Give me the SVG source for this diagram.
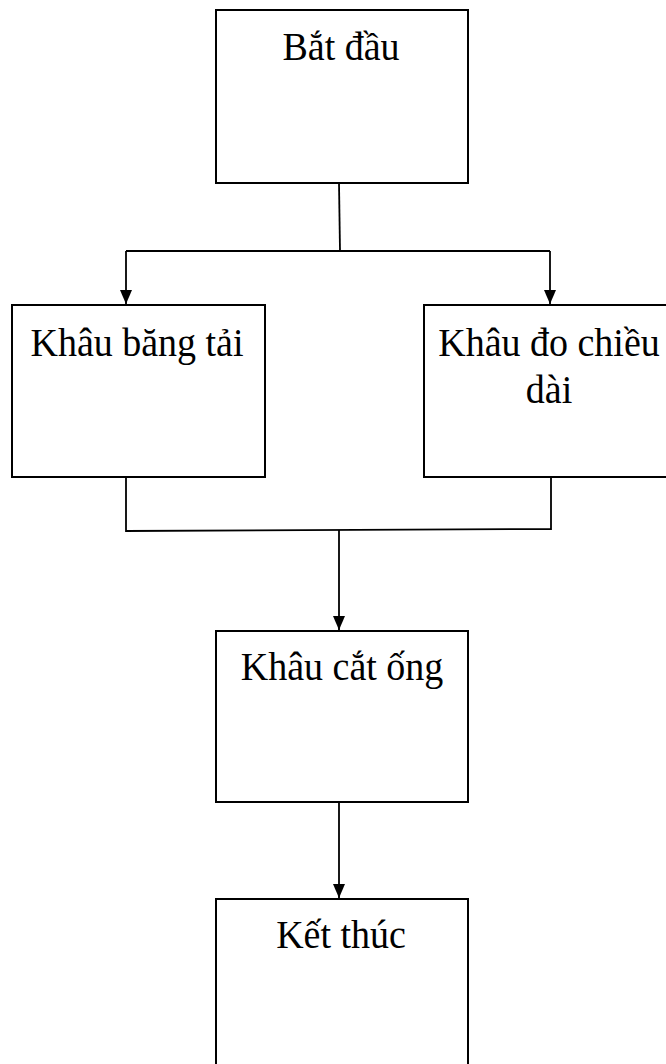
<svg xmlns="http://www.w3.org/2000/svg" width="666" height="1064" viewBox="0 0 666 1064">
<style>
.box{fill:#fff;stroke:#000;stroke-width:2}
.ln{fill:none;stroke:#000;stroke-width:1.8}
.t{font-family:"Liberation Serif","Times New Roman",serif;font-size:38px;fill:#000;text-anchor:middle}
</style>
<defs>
<marker id="ah" markerUnits="userSpaceOnUse" markerWidth="14" markerHeight="12" refX="14" refY="6" orient="auto" viewBox="0 0 14 12">
<path d="M0,0 L14,6 L0,12 Z" fill="#000"/>
</marker>
</defs>
<g id="connectors">
<path class="ln" d="M339,183 L340,251"/>
<path class="ln" d="M126,251 L550,251"/>
<path class="ln" d="M126,251 L126,304" marker-end="url(#ah)"/>
<path class="ln" d="M550,251 L550,304" marker-end="url(#ah)"/>
<path class="ln" d="M126,477 L126,531 L551,529 L551,477"/>
<path class="ln" d="M339,530 L339,630" marker-end="url(#ah)"/>
<path class="ln" d="M339,802 L339,898" marker-end="url(#ah)"/>
</g>
<g id="start">
<rect class="box" x="216" y="10" width="252" height="173"/>
<text class="t" transform="translate(341,60) scale(1,1.08)">Bắt đầu</text>
</g>
<g id="conveyor">
<rect class="box" x="12" y="305" width="253" height="172"/>
<text class="t" transform="translate(137,356) scale(1,1.08)">Khâu băng tải</text>
</g>
<g id="measure">
<rect class="box" x="424" y="305" width="250" height="172"/>
<text class="t" transform="translate(549,356) scale(1,1.08)">Khâu đo chiều</text>
<text class="t" transform="translate(549,403) scale(1,1.08)">dài</text>
</g>
<g id="cut">
<rect class="box" x="216" y="631" width="252" height="171"/>
<text class="t" transform="translate(342,680) scale(1,1.08)">Khâu cắt ống</text>
</g>
<g id="end">
<rect class="box" x="216" y="899" width="252" height="180"/>
<text class="t" transform="translate(341,948) scale(1,1.08)">Kết thúc</text>
</g>
</svg>
